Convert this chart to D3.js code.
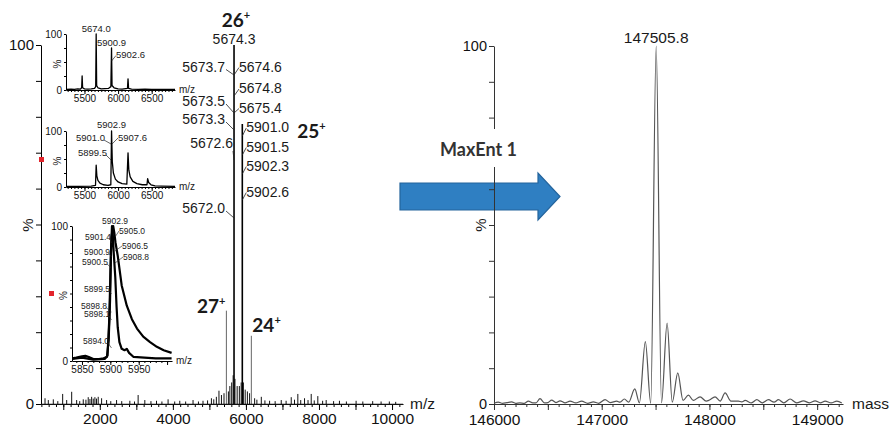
<!DOCTYPE html>
<html>
<head>
<meta charset="utf-8">
<script src="https://cdn.jsdelivr.net/npm/d3@7"></script>
<style>
  body { margin: 0; background: #fff; }
  svg { display: block; font-family: "Liberation Sans", Arial, sans-serif; }
</style>
</head>
<body>
<div id="chart"></div>
<script>
// ---------- data ----------
// main ESI spectrum, sticks [m/z, %]
const mainSticks = [
  [500,1.6],[590,1.1],[727,1.3],[850,0.8],[983,2.8],[1093,1.1],[1230,3.4],[1366,1.1],[1450,0.8],
  [1547,1.3],[1620,1.2],[1683,1.9],[1730,1.4],[1776,2],[1820,1.5],[1866,1.9],[1910,1.5],[1956,2],
  [2049,1.6],[2186,1.1],[2300,0.8],[2459,1.1],[2600,0.8],[2822,0.9],[2950,0.7],[3049,2.5],[3232,1.1],
  [3400,0.8],[3552,0.9],[3700,0.7],[3869,1.3],[4050,0.7],[4189,0.9],[4350,0.7],[4552,1.1],[4700,0.7],
  [4825,0.9],[4950,1],[5055,1.6],[5120,1.3],[5191,2],[5262,3.7],[5330,2.5],[5400,3],
  [5520,3.5],[5560,5],[5610,6],[5650,8],[5700,7],[5760,5],[5820,5],[5870,6],[5930,6],[5980,4],
  [6040,3.5],[6100,3],[6238,1.6],[6300,1.2],[6421,2],[6520,1],[6648,0.9],[6800,0.8],[6967,1.1],
  [7100,0.9],[7240,1.9],[7330,1.2],[7421,2.8],[7500,1.1],[7604,1.6],[7700,1.1],[7787,2.8],[7870,1],
  [7968,2.2],[8100,0.9],[8197,1.1],[8400,0.8],[8560,0.9],[8750,0.7],[9016,0.9],[9200,0.7],[9470,0.8],
  [9700,0.7],[9926,0.7],[10100,0.6]
];
const chargeStates = [27, 26, 25, 24];
const chargeMz     = [5465, 5674.3, 5901, 6148];
const chargeInt    = [26, 100, 78, 19];

const labels26 = ["5674.3","5673.7","5674.6","5674.8","5673.5","5675.4","5673.3","5672.6","5672.0"];
const labels25 = ["5901.0","5901.5","5902.3","5902.6"];

// inset 1 (top) profile [m/z, %]
const inset1 = [
  [5225,1],[5300,1.5],[5350,1],[5400,2],[5440,1.5],[5458,4],[5465,25],[5472,4],[5500,2],[5550,1.5],
  [5600,2],[5650,3],[5667,6],[5674,100],[5681,8],[5700,4],[5750,2],[5800,2.5],[5860,3],[5893,6],
  [5902.6,75],[5910,8],[5940,4],[6000,2],[6060,1.5],[6140,3],[6148,20],[6156,3],[6200,1.5],
  [6300,1],[6400,1.5],[6500,1],[6600,1],[6700,1.2],[6847,1]
];
const inset1Labels = ["5674.0","5900.9","5902.6"];

// inset 2 (middle) profile [m/z, %]
const inset2 = [
  [5225,1],[5400,1],[5600,1.5],[5664,3],[5674,39],[5684,20],[5700,12],[5730,7],[5780,4],[5850,3],
  [5892,4],[5902.9,100],[5914,45],[5930,25],[5960,14],[6000,9],[6060,6],[6130,5],[6148,61],
  [6160,30],[6180,18],[6220,10],[6280,6],[6360,4],[6430,4],[6440,15],[6455,8],[6490,4],[6550,2],
  [6650,1.5],[6847,1]
];
const inset2Labels = ["5902.9","5901.0","5907.6","5899.5"];

// inset 3 (zoomed 25+ peak), two traces [m/z, %]
const inset3Narrow = [
  [5833,2],[5840,2.5],[5850,3.5],[5856,3.8],[5862,3],[5870,1.5],[5880,1.5],[5888,2],[5894,3],
  [5897,15],[5899.5,45],[5901,80],[5902.9,100],[5904,96],[5906,80],[5908.7,62],[5911,40],[5913,25],
  [5916,14],[5920,9],[5925,8],[5929,9],[5933,6],[5941,3],[5960,2.5],[5980,2],[6008,2]
];
const inset3Broad = [
  [5833,1.5],[5850,2.5],[5870,1],[5890,1.5],[5895,4],[5898,30],[5900.5,70],[5902,92],[5905,100],
  [5907,95],[5909,88],[5913,78],[5920,56],[5929,41],[5938,31],[5947,24],[5958,18],[5970,14],
  [5982,10.5],[5994,8],[6008,6]
];
const inset3Labels = ["5902.9","5901.4","5905.0","5906.5","5900.9","5908.8","5900.5","5899.5","5898.8","5898.1","5894.0"];

// deconvoluted (MaxEnt 1) profile [mass, %]
const massProfile = [
  [146000,0.2],[146040,0.5],[146080,0.2],[146120,0.4],[146164,0.6],[146200,0.2],[146240,0.3],
  [146280,0.2],[146319,0.8],[146360,0.3],[146390,0.3],[146427,1.5],[146470,0.3],[146500,0.4],
  [146535,1.1],[146575,0.4],[146613,0.9],[146660,0.3],[146706,0.8],[146760,0.3],[146814,0.8],
  [146870,0.2],[146922,0.6],[146970,0.2],[147031,1.2],[147080,0.4],[147139,0.8],[147170,0.5],
  [147210,1.4],[147250,0.5],[147307,4.2],[147350,0.3],[147405,17.4],[147455,0.2],[147505.8,100],
  [147555,0.3],[147607,22.6],[147655,0.5],[147706,8.7],[147755,1],[147805,2.5],[147850,1],
  [147913,2],[147970,0.8],[148000,1.1],[148052,2],[148100,0.8],[148145,3.1],[148200,0.8],
  [148269,0.8],[148300,0.6],[148331,1],[148390,0.3],[148440,1.2],[148490,0.3],[148548,1.2],
  [148600,0.5],[148641,1.2],[148690,0.3],[148749,1.4],[148810,0.3],[148873,0.9],[148930,0.3],
  [148981,0.9],[149030,0.3],[149074,0.8],[149130,0.3],[149183,0.8],[149229,0.3]
];
const massPeakLabel = "147505.8";

// ---------- svg ----------
const W = 890, H = 428;
const svg = d3.select("#chart").append("svg").attr("width", W).attr("height", H);

const xMain = d3.scaleLinear().domain([390, 10300]).range([41, 403]);
const yMain = d3.scaleLinear().domain([0, 100]).range([404, 45]);
const xMass = d3.scaleLinear().domain([146000, 149240]).range([494, 843]);
const yMass = d3.scaleLinear().domain([0, 100]).range([404, 46]);

function xAxis(g, scale, y, minor, major, labelStep, lo, hi, minLen, majLen, fs, col, pad, labelMax) {
  const a = g.append("g").attr("transform", `translate(0,${y})`);
  a.call(d3.axisBottom(scale).tickValues(d3.range(lo, hi + 1, minor)).tickSize(minLen).tickFormat("").tickSizeOuter(0));
  const b = g.append("g").attr("transform", `translate(0,${y})`);
  b.call(d3.axisBottom(scale).tickValues(d3.range(Math.ceil(lo / major) * major, hi + 1, major))
    .tickSize(majLen).tickPadding(pad)
    .tickFormat(d => (d % labelStep === 0 && d <= labelMax) ? d : "").tickSizeOuter(0));
  b.select(".domain").remove();
  [a, b].forEach(s => {
    s.selectAll("line").attr("stroke", col);
    s.selectAll(".domain").attr("stroke", col);
    s.selectAll("text").attr("font-size", fs).attr("fill", "#111").attr("font-family", "Liberation Sans, Arial, sans-serif");
  });
}
function yAxis(g, scale, x, step, tl, fs, col) {
  const a = g.append("g").attr("transform", `translate(${x},0)`);
  a.call(d3.axisLeft(scale).tickValues(d3.range(0, 101, step)).tickSize(tl).tickPadding(2)
    .tickFormat(d => (d === 0 || d === 100) ? d : "").tickSizeOuter(0));
  a.selectAll("line").attr("stroke", col);
  a.select(".domain").attr("stroke", col);
  a.selectAll("text").attr("font-size", fs).attr("fill", "#111").attr("font-family", "Liberation Sans, Arial, sans-serif");
  return a;
}
function txt(g, x, y, s, fs, anchor) {
  return g.append("text").attr("x", x).attr("y", y).attr("font-size", fs)
    .attr("text-anchor", anchor || "start").attr("fill", "#1a1a1a").text(s);
}
function leader(g, x1, y1, x2, y2, w) {
  g.append("line").attr("x1", x1).attr("y1", y1).attr("x2", x2).attr("y2", y2)
    .attr("stroke", "#222").attr("stroke-width", w || 0.8);
}

// ---------- main spectrum ----------
const gMain = svg.append("g");
gMain.append("g").selectAll("line").data(mainSticks).enter().append("line")
  .attr("x1", d => xMain(d[0])).attr("x2", d => xMain(d[0]))
  .attr("y1", yMain(0)).attr("y2", d => yMain(d[1]))
  .attr("stroke", "#111").attr("stroke-width", 1);
gMain.append("g").selectAll("line").data(chargeMz).enter().append("line")
  .attr("x1", d => xMain(d)).attr("x2", d => xMain(d))
  .attr("y1", yMain(0)).attr("y2", (d, i) => yMain(chargeInt[i]))
  .attr("stroke", (d, i) => chargeInt[i] > 50 ? "#000" : "#666")
  .attr("stroke-width", (d, i) => chargeInt[i] > 50 ? 1.6 : 1);

xAxis(gMain, xMain, 404, 200, 1000, 2000, 400, 10200, 3, 6, "15.5px", "#000", 3, 10000);
yAxis(gMain, yMain, 41, 10, 5, "15px", "#000");
gMain.append("line").attr("x1", 41).attr("x2", 403).attr("y1", 404.3).attr("y2", 404.3)
  .attr("stroke", "#111").attr("stroke-width", 1.2);
txt(gMain, 410, 409, "m/z", "15.5px");
txt(gMain, 0, 0, "%", "15px", "middle").attr("transform", "translate(33,225) rotate(-90)");

// peak annotations
const p26 = xMain(chargeMz[1]), p25 = xMain(chargeMz[2]);
const lab = gMain.append("g");
txt(lab, p26, 44, labels26[0], "14px", "middle");
const left26 = [[labels26[1], 71.5, 75], [labels26[4], 106, 113], [labels26[6], 124, 130], [labels26[8], 213, 218]];
left26.forEach(d => { txt(lab, p26 - 9, d[1], d[0], "14px", "end"); leader(lab, p26 - 8, d[1] - 2, p26, d[2]); });
const right26 = [[labels26[2], 71.5, 75], [labels26[3], 93, 96], [labels26[5], 112.5, 113]];
right26.forEach(d => { txt(lab, p26 + 5, d[1], d[0], "14px", "start"); leader(lab, p26, d[2], p26 + 5, d[1] - 4); });
txt(lab, p26 - 1, 148, labels26[7], "14px", "end");
leader(lab, p26 - 1, 151, p26, 160);
const right25 = [[labels25[0], 132, 136], [labels25[1], 151.5, 155], [labels25[2], 170.5, 174], [labels25[3], 196.5, 200]];
right25.forEach(d => { txt(lab, p25 + 4, d[1], d[0], "14px", "start"); leader(lab, p25, d[2], p25 + 4, d[1] - 4); });

function charge(g, x, y, z, anchor) {
  const t = g.append("text").attr("x", x).attr("y", y).attr("text-anchor", anchor)
    .attr("font-family", "Lato, 'Open Sans', sans-serif").attr("font-weight", "bold")
    .attr("font-size", "19px").attr("fill", "#1a1a1a");
  t.append("tspan").text(z);
  t.append("tspan").text("+").attr("font-size", "11px").attr("dy", "-8");
}
charge(lab, xMain(chargeMz[0]) - 1, yMain(chargeInt[0]) + 2, chargeStates[0], "end");
charge(lab, p26 + 2, 27, chargeStates[1], "middle");
charge(lab, p25 + 55, 138, chargeStates[2], "start");
charge(lab, xMain(chargeMz[3]) + 1, 332, chargeStates[3], "start");

// red markers
svg.append("rect").attr("x", 39).attr("y", 157).attr("width", 5).attr("height", 5).attr("fill", "#e3242b");
svg.append("rect").attr("x", 49).attr("y", 291).attr("width", 5).attr("height", 5).attr("fill", "#e3242b");

// ---------- insets ----------
function inset(data, dom, xr, yr, minor, major, pctStep, labelMax, lw) {
  const g = svg.append("g");
  const sx = d3.scaleLinear().domain(dom).range(xr);
  const sy = d3.scaleLinear().domain([0, 100]).range(yr);
  data.forEach(tr => {
    g.append("path").datum(tr).attr("fill", "none").attr("stroke", "#000").attr("stroke-width", lw)
      .attr("stroke-linejoin", "round")
      .attr("d", d3.line().x(d => sx(d[0])).y(d => sy(d[1])));
  });
  xAxis(g, sx, yr[0], minor, major, major, Math.ceil(dom[0] / minor) * minor, dom[1], 2, 4, "10px", "#000", 1, labelMax);
  yAxis(g, sy, xr[0], pctStep, 2, "10px", "#000");
  txt(g, xr[1] + 4, yr[0] + 2.5, "m/z", "10px");
  txt(g, 0, 0, "%", "10px", "middle").attr("transform", `translate(${xr[0] - 5},${(yr[0] + yr[1]) / 2 + 2}) rotate(-90)`);
  return { g, sx, sy };
}

const in1 = inset([inset1], [5225, 6847], [66, 175], [90, 34], 50, 500, 25, 6500, 1.3);
txt(in1.g, in1.sx(5674), 31.5, inset1Labels[0], "9.5px", "middle");
txt(in1.g, 97, 46, inset1Labels[1], "9.5px", "start");
txt(in1.g, 116, 57.5, inset1Labels[2], "9.5px", "start");
leader(in1.g, in1.sx(5902.6), 61, 116, 55.5, 0.7);

const in2 = inset([inset2], [5225, 6847], [66, 175], [187, 131], 50, 500, 25, 6500, 1.3);
txt(in2.g, in2.sx(5902.9), 127.5, inset2Labels[0], "9.5px", "middle");
txt(in2.g, 105, 141, inset2Labels[1], "9.5px", "end");
leader(in2.g, 104, 140, in2.sx(5902.9) - 0.5, 144, 0.7);
txt(in2.g, 118, 141, inset2Labels[2], "9.5px", "start");
leader(in2.g, in2.sx(5902.9) + 0.5, 144, 118, 138, 0.7);
txt(in2.g, 107, 156, inset2Labels[3], "9.5px", "end");
leader(in2.g, 106, 155, in2.sx(5902.9) - 0.5, 160, 0.7);

const in3 = inset([inset3Narrow, inset3Broad], [5832.4, 6008.7], [72, 172], [361, 226], 10, 50, 10, 5950, 2.2);
const l3 = in3.g;
txt(l3, 115, 223.5, inset3Labels[0], "8.5px", "middle");
const l3left = [[inset3Labels[1], 111, 240, 243], [inset3Labels[4], 110, 254.5, 257], [inset3Labels[6], 108, 265, 268],
  [inset3Labels[7], 110, 291.5, 294], [inset3Labels[8], 107, 308.5, 312], [inset3Labels[9], 110, 317, 320], [inset3Labels[10], 109, 344, 348]];
l3left.forEach(d => { txt(l3, d[1], d[2], d[0], "8.5px", "end"); leader(l3, d[1] - 1, d[2] - 1, 111.5, d[3], 0.6); });
const l3right = [[inset3Labels[2], 119, 234, 237], [inset3Labels[3], 122, 249, 251], [inset3Labels[5], 123, 260, 263]];
l3right.forEach(d => { txt(l3, d[1], d[2], d[0], "8.5px", "start"); leader(l3, 115, d[3], d[1], d[2] - 3, 0.6); });

// ---------- arrow + MaxEnt ----------
svg.append("path")
  .attr("d", "M400,183 L538,183 L538,173 L560,196.5 L538,220 L538,210 L400,210 Z")
  .attr("fill", "#2f7fc2").attr("stroke", "#24649c").attr("stroke-width", 1.2);

// ---------- deconvoluted spectrum ----------
const gMass = svg.append("g");
xAxis(gMass, xMass, 404, 100, 500, 1000, 146000, 149200, 3, 6, "15.5px", "#333", 4, 149000);
yAxis(gMass, yMass, 494, 10, 5, "14.5px", "#333");
gMass.append("path").datum(massProfile).attr("fill", "none").attr("stroke", "#555").attr("stroke-width", 1.2)
  .attr("d", d3.line().x(d => xMass(d[0])).y(d => yMass(d[1])).curve(d3.curveMonotoneX));
txt(gMass, xMass(147505.8), 43, massPeakLabel, "15.5px", "middle");
txt(gMass, 852, 409, "mass", "15.5px");
txt(gMass, 0, 0, "%", "15px", "middle").attr("transform", "translate(486,225) rotate(-90)");

svg.append("rect").attr("x", 438).attr("y", 129).attr("width", 88).attr("height", 38).attr("fill", "#fff");
svg.append("text").attr("x", 440).attr("y", 156).attr("font-family", "Lato, 'Open Sans', sans-serif")
  .attr("font-weight", "bold").attr("font-size", "18px").attr("fill", "#333").text("MaxEnt 1");
</script>
</body>
</html>
